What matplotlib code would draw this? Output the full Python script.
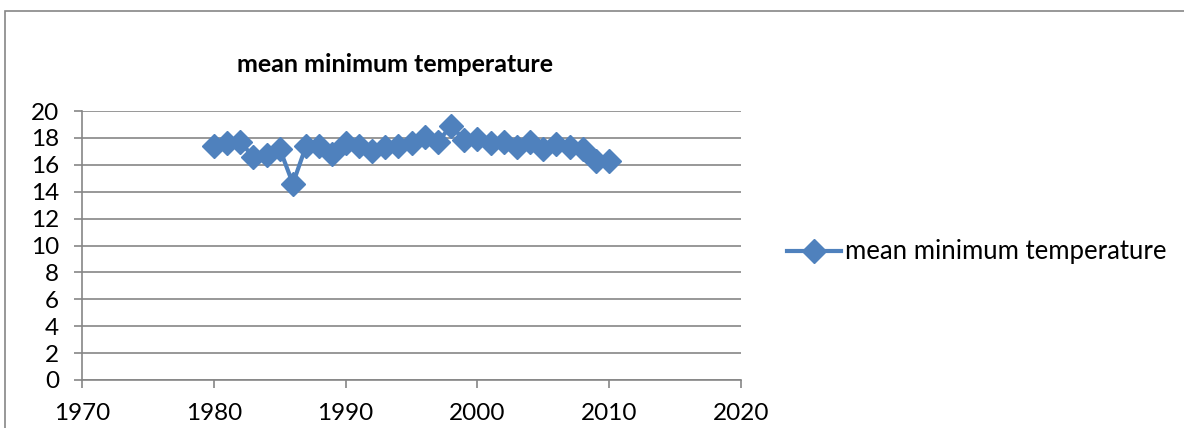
import matplotlib.pyplot as plt
from matplotlib.patches import Rectangle

years = list(range(1980, 2011))
mean_min_temp = [17.4, 17.6, 17.7, 16.6, 16.7, 17.2, 14.6, 17.4, 17.4, 16.8,
                 17.6, 17.4, 17.0, 17.3, 17.4, 17.6, 18.05, 17.7, 18.9, 17.85,
                 17.9, 17.6, 17.7, 17.35, 17.7, 17.2, 17.55, 17.35, 17.2, 16.3,
                 16.25]
series_name = "mean minimum temperature"
x_ticks = [1970, 1980, 1990, 2000, 2010, 2020]
y_ticks = list(range(0, 21, 2))

blue = "#4F81BD"
grey = "#868686"

plt.rcParams['font.family'] = ['Lato', 'DejaVu Sans']

fig = plt.figure(figsize=(11.84, 4.28), dpi=100)
ax = fig.add_axes([82 / 1184, 1 - 380 / 428, (741 - 82) / 1184, (380 - 111) / 428])

# chart-area frame
fig.patches.append(Rectangle((5 / 1184, -0.1), 1.2, 1 - 11 / 428 + 0.1,
                             transform=fig.transFigure, fill=False,
                             edgecolor=grey, linewidth=1.2))

line, = ax.plot(years, mean_min_temp, color=blue, linewidth=3.0,
                marker='D', markersize=12.5, markeredgecolor=blue,
                markerfacecolor=blue, label=series_name, zorder=3)

ax.set_xlim(1970, 2020)
ax.set_ylim(0, 20)
ax.set_xticks(x_ticks)
ax.set_yticks(y_ticks)
ax.yaxis.grid(True, color=grey, linewidth=1.2)
ax.set_axisbelow(True)
for side in ('top', 'right'):
    ax.spines[side].set_visible(False)
for side in ('left', 'bottom'):
    ax.spines[side].set_color(grey)
    ax.spines[side].set_linewidth(1.2)
ax.tick_params(axis='both', colors=grey, labelcolor='black', labelsize=17.5,
               length=5.5, width=1.2, direction='out')
ax.tick_params(axis='x', pad=11)
ax.tick_params(axis='y', pad=11)

ax.set_title(series_name, fontsize=18, fontweight='bold', pad=28,
             x=(395 - 82) / (741 - 82))

ax.legend(handles=[line], loc='center left', bbox_to_anchor=(787 / 1184, 1 - 252 / 428),
          bbox_transform=fig.transFigure, frameon=False, fontsize=18.5,
          handlelength=2.1, handletextpad=0.15, borderaxespad=0, borderpad=0)

fig.savefig("out.png", dpi=100)
